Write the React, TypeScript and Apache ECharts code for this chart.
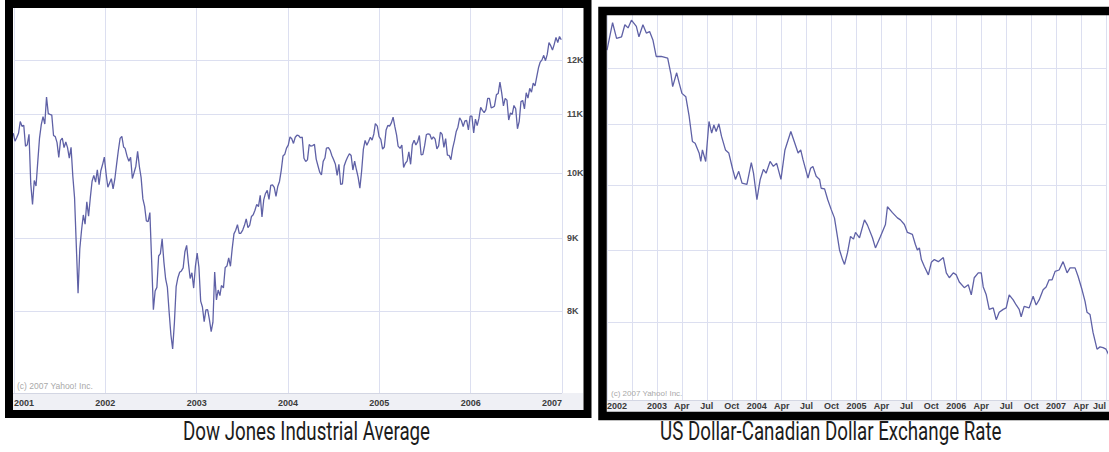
import React, { useEffect, useRef } from "react";
import * as echarts from "echarts";

// ---------- data ----------
const captions = ["Dow Jones Industrial Average", "US Dollar-Canadian Dollar Exchange Rate"];
const creditText = "(c) 2007 Yahoo! Inc.";

const dowTickLabels = ["2001", "2002", "2003", "2004", "2005", "2006", "2007"];
const dowYTicks = [8000, 9000, 10000, 11000, 12000];
const dowYTickLabels = ["8K", "9K", "10K", "11K", "12K"];

// weekly closes [week ending, value]
const dow2001: [string, number][] = [
  ["2001-01-05", 10662], ["2001-01-12", 10525], ["2001-01-19", 10587], ["2001-01-26", 10660],
  ["2001-02-02", 10865], ["2001-02-09", 10781], ["2001-02-16", 10799], ["2001-02-23", 10441],
  ["2001-03-02", 10466], ["2001-03-09", 10644], ["2001-03-16", 9824], ["2001-03-23", 9504], ["2001-03-30", 9879],
  ["2001-04-06", 9792], ["2001-04-12", 10127], ["2001-04-20", 10579], ["2001-04-27", 10811],
  ["2001-05-04", 10951], ["2001-05-11", 10822], ["2001-05-18", 11302], ["2001-05-25", 11005],
  ["2001-06-01", 10990], ["2001-06-08", 10977], ["2001-06-15", 10623], ["2001-06-22", 10604], ["2001-06-29", 10502],
  ["2001-07-06", 10253], ["2001-07-13", 10539], ["2001-07-20", 10577], ["2001-07-27", 10416],
  ["2001-08-03", 10512], ["2001-08-10", 10416], ["2001-08-17", 10240], ["2001-08-24", 10423], ["2001-08-31", 9950],
  ["2001-09-07", 9606], ["2001-09-21", 8236], ["2001-09-28", 8848],
  ["2001-10-05", 9120], ["2001-10-12", 9344], ["2001-10-19", 9205], ["2001-10-26", 9545],
  ["2001-11-02", 9324], ["2001-11-09", 9608], ["2001-11-16", 9867], ["2001-11-23", 9960], ["2001-11-30", 9852],
  ["2001-12-07", 10049], ["2001-12-14", 9812], ["2001-12-21", 10035], ["2001-12-28", 10136],
];
const dow2002: [string, number][] = [
  ["2002-01-04", 10259], ["2002-01-11", 9987], ["2002-01-18", 9771], ["2002-01-25", 9840],
  ["2002-02-01", 9907], ["2002-02-08", 9744], ["2002-02-15", 9903], ["2002-02-22", 10140],
  ["2002-03-01", 10368], ["2002-03-08", 10572], ["2002-03-15", 10608], ["2002-03-22", 10427], ["2002-03-28", 10404],
  ["2002-04-05", 10271], ["2002-04-12", 10190], ["2002-04-19", 10257], ["2002-04-26", 9910],
  ["2002-05-03", 10007], ["2002-05-10", 10109], ["2002-05-17", 10353], ["2002-05-24", 10104], ["2002-05-31", 9925],
  ["2002-06-07", 9589], ["2002-06-14", 9474], ["2002-06-21", 9253], ["2002-06-28", 9243],
  ["2002-07-05", 9379], ["2002-07-12", 8684], ["2002-07-19", 8019], ["2002-07-26", 8264],
  ["2002-08-02", 8313], ["2002-08-09", 8745], ["2002-08-16", 8778], ["2002-08-23", 8990], ["2002-08-30", 8663],
  ["2002-09-06", 8427], ["2002-09-13", 8312], ["2002-09-20", 7986], ["2002-09-27", 7701],
  ["2002-10-04", 7528], ["2002-10-11", 7850], ["2002-10-18", 8322], ["2002-10-25", 8444],
  ["2002-11-01", 8518], ["2002-11-08", 8537], ["2002-11-15", 8579], ["2002-11-22", 8805], ["2002-11-29", 8896],
  ["2002-12-06", 8645], ["2002-12-13", 8433], ["2002-12-20", 8512], ["2002-12-27", 8304],
];
const dow2003: [string, number][] = [
  ["2003-01-03", 8601], ["2003-01-10", 8785], ["2003-01-17", 8587], ["2003-01-24", 8131], ["2003-01-31", 8054],
  ["2003-02-07", 7865], ["2003-02-14", 8016], ["2003-02-21", 8018], ["2003-02-28", 7891],
  ["2003-03-07", 7740], ["2003-03-14", 7859], ["2003-03-21", 8522], ["2003-03-28", 8146],
  ["2003-04-04", 8278], ["2003-04-11", 8203], ["2003-04-17", 8338], ["2003-04-25", 8307],
  ["2003-05-02", 8583], ["2003-05-09", 8604], ["2003-05-16", 8719], ["2003-05-23", 8601], ["2003-05-30", 8850],
  ["2003-06-06", 9063], ["2003-06-13", 9117], ["2003-06-20", 9200], ["2003-06-27", 9072],
  ["2003-07-03", 9070], ["2003-07-11", 9119], ["2003-07-18", 9189], ["2003-07-25", 9285],
  ["2003-08-01", 9153], ["2003-08-08", 9191], ["2003-08-15", 9322], ["2003-08-22", 9348], ["2003-08-29", 9416],
  ["2003-09-05", 9504], ["2003-09-12", 9471], ["2003-09-19", 9644], ["2003-09-26", 9313],
  ["2003-10-03", 9573], ["2003-10-10", 9674], ["2003-10-17", 9722], ["2003-10-24", 9583], ["2003-10-31", 9801],
  ["2003-11-07", 9810], ["2003-11-14", 9768], ["2003-11-21", 9629], ["2003-11-28", 9782],
  ["2003-12-05", 9863], ["2003-12-12", 10042], ["2003-12-19", 10278], ["2003-12-26", 10305],
];
const dow2004: [string, number][] = [
  ["2004-01-02", 10409], ["2004-01-09", 10458], ["2004-01-16", 10600], ["2004-01-23", 10568], ["2004-01-30", 10488],
  ["2004-02-06", 10593], ["2004-02-13", 10627], ["2004-02-20", 10619], ["2004-02-27", 10584],
  ["2004-03-05", 10595], ["2004-03-12", 10240], ["2004-03-19", 10186], ["2004-03-26", 10213],
  ["2004-04-02", 10470], ["2004-04-08", 10442], ["2004-04-16", 10452], ["2004-04-23", 10472], ["2004-04-30", 10226],
  ["2004-05-07", 10117], ["2004-05-14", 10012], ["2004-05-21", 9966], ["2004-05-28", 10188],
  ["2004-06-04", 10243], ["2004-06-10", 10410], ["2004-06-18", 10416], ["2004-06-25", 10371],
  ["2004-07-02", 10282], ["2004-07-09", 10213], ["2004-07-16", 10140], ["2004-07-23", 9962], ["2004-07-30", 10140],
  ["2004-08-06", 9815], ["2004-08-13", 9825], ["2004-08-20", 10111], ["2004-08-27", 10195],
  ["2004-09-03", 10260], ["2004-09-10", 10314], ["2004-09-17", 10284], ["2004-09-24", 10047],
  ["2004-10-01", 10192], ["2004-10-08", 10055], ["2004-10-15", 9933], ["2004-10-22", 9757], ["2004-10-29", 10027],
  ["2004-11-05", 10387], ["2004-11-12", 10539], ["2004-11-19", 10456], ["2004-11-26", 10522],
  ["2004-12-03", 10592], ["2004-12-10", 10543], ["2004-12-17", 10649], ["2004-12-23", 10828], ["2004-12-31", 10783],
];
const dow2005: [string, number][] = [
  ["2005-01-07", 10603], ["2005-01-14", 10558], ["2005-01-21", 10393], ["2005-01-28", 10427],
  ["2005-02-04", 10716], ["2005-02-11", 10796], ["2005-02-18", 10785], ["2005-02-25", 10841],
  ["2005-03-04", 10941], ["2005-03-11", 10774], ["2005-03-18", 10629], ["2005-03-24", 10442],
  ["2005-04-01", 10404], ["2005-04-08", 10461], ["2005-04-15", 10087], ["2005-04-22", 10157], ["2005-04-29", 10193],
  ["2005-05-06", 10345], ["2005-05-13", 10140], ["2005-05-20", 10471], ["2005-05-27", 10542],
  ["2005-06-03", 10461], ["2005-06-10", 10513], ["2005-06-17", 10623], ["2005-06-24", 10297],
  ["2005-07-01", 10303], ["2005-07-08", 10449], ["2005-07-15", 10640], ["2005-07-22", 10651], ["2005-07-29", 10641],
  ["2005-08-05", 10558], ["2005-08-12", 10600], ["2005-08-19", 10559], ["2005-08-26", 10397],
  ["2005-09-02", 10447], ["2005-09-09", 10679], ["2005-09-16", 10641], ["2005-09-23", 10419], ["2005-09-30", 10569],
  ["2005-10-07", 10292], ["2005-10-14", 10287], ["2005-10-21", 10215], ["2005-10-28", 10403],
  ["2005-11-04", 10530], ["2005-11-11", 10686], ["2005-11-18", 10766], ["2005-11-25", 10931],
  ["2005-12-02", 10878], ["2005-12-09", 10778], ["2005-12-16", 10875], ["2005-12-23", 10883], ["2005-12-30", 10718],
];
const dow2006: [string, number][] = [
  ["2006-01-06", 10959], ["2006-01-13", 10960], ["2006-01-20", 10667], ["2006-01-27", 10907],
  ["2006-02-03", 10793], ["2006-02-10", 10920], ["2006-02-17", 11115], ["2006-02-24", 11061],
  ["2006-03-03", 11022], ["2006-03-10", 11076], ["2006-03-17", 11279], ["2006-03-24", 11280], ["2006-03-31", 11109],
  ["2006-04-07", 11120], ["2006-04-13", 11137], ["2006-04-21", 11347], ["2006-04-28", 11367],
  ["2006-05-05", 11577], ["2006-05-12", 11380], ["2006-05-19", 11144], ["2006-05-26", 11278],
  ["2006-06-02", 11247], ["2006-06-09", 10891], ["2006-06-16", 11015], ["2006-06-23", 10989], ["2006-06-30", 11150],
  ["2006-07-07", 11091], ["2006-07-14", 10739], ["2006-07-21", 10868], ["2006-07-28", 11219],
  ["2006-08-04", 11240], ["2006-08-11", 11089], ["2006-08-18", 11381], ["2006-08-25", 11284],
  ["2006-09-01", 11464], ["2006-09-08", 11392], ["2006-09-15", 11560], ["2006-09-22", 11508], ["2006-09-29", 11679],
  ["2006-10-06", 11850], ["2006-10-13", 11960], ["2006-10-20", 12002], ["2006-10-27", 12090],
  ["2006-11-03", 11986], ["2006-11-10", 12108], ["2006-11-17", 12342], ["2006-11-24", 12280],
  ["2006-12-01", 12194], ["2006-12-08", 12307], ["2006-12-15", 12445], ["2006-12-22", 12343], ["2006-12-29", 12463],
  ["2007-01-05", 12398],
];

const cadTickLabels = [
  "2002", "", "2003", "Apr", "Jul", "Oct", "2004", "Apr", "Jul", "Oct",
  "2005", "Apr", "Jul", "Oct", "2006", "Apr", "Jul", "Oct", "2007", "Apr", "Jul",
];
const cadYTicks = [1.1, 1.2, 1.3, 1.4, 1.5];

// [fractional year, USD/CAD]
const cad2002_03: [number, number][] = [
  [2002.5, 1.533], [2002.556, 1.585], [2002.596, 1.555], [2002.646, 1.558], [2002.679, 1.581], [2002.711, 1.575],
  [2002.745, 1.59], [2002.794, 1.578], [2002.82, 1.558], [2002.86, 1.581], [2002.894, 1.565], [2002.927, 1.568],
  [2002.96, 1.552], [2002.993, 1.521], [2003.043, 1.521], [2003.108, 1.518], [2003.142, 1.487], [2003.158, 1.466],
  [2003.198, 1.491], [2003.224, 1.472], [2003.251, 1.454], [2003.29, 1.448], [2003.323, 1.414], [2003.356, 1.371],
  [2003.383, 1.368], [2003.423, 1.352], [2003.44, 1.338], [2003.456, 1.357], [2003.489, 1.338], [2003.522, 1.405],
  [2003.549, 1.385], [2003.571, 1.399], [2003.594, 1.388], [2003.621, 1.401], [2003.647, 1.38], [2003.687, 1.357],
  [2003.72, 1.352], [2003.76, 1.325], [2003.787, 1.309], [2003.82, 1.322], [2003.853, 1.303], [2003.902, 1.301],
  [2003.946, 1.336], [2003.968, 1.319],
];
const cad2004_05: [number, number][] = [
  [2004.002, 1.277], [2004.035, 1.309], [2004.067, 1.325], [2004.094, 1.319], [2004.134, 1.338], [2004.167, 1.33],
  [2004.2, 1.335], [2004.243, 1.309], [2004.283, 1.357], [2004.342, 1.388], [2004.382, 1.368], [2004.415, 1.352],
  [2004.441, 1.357], [2004.464, 1.341], [2004.514, 1.311], [2004.54, 1.327], [2004.563, 1.33], [2004.596, 1.314],
  [2004.63, 1.309], [2004.646, 1.295], [2004.68, 1.294], [2004.712, 1.277], [2004.746, 1.262], [2004.779, 1.249],
  [2004.83, 1.201], [2004.86, 1.187], [2004.88, 1.18], [2004.91, 1.197], [2004.94, 1.221], [2004.97, 1.217],
  [2004.99, 1.227], [2005.03, 1.219], [2005.08, 1.246], [2005.11, 1.238], [2005.16, 1.219], [2005.19, 1.204],
  [2005.24, 1.221], [2005.29, 1.239], [2005.31, 1.266], [2005.36, 1.257], [2005.41, 1.249], [2005.44, 1.246],
  [2005.48, 1.239], [2005.51, 1.227], [2005.56, 1.224], [2005.59, 1.209], [2005.61, 1.201], [2005.63, 1.204],
  [2005.65, 1.187], [2005.68, 1.177], [2005.72, 1.165], [2005.75, 1.183], [2005.78, 1.187], [2005.82, 1.184],
  [2005.87, 1.19], [2005.9, 1.168], [2005.93, 1.161], [2005.97, 1.168],
];
const cad2006_07: [number, number][] = [
  [2006.0, 1.165], [2006.03, 1.155], [2006.08, 1.147], [2006.12, 1.151], [2006.15, 1.137], [2006.18, 1.161],
  [2006.22, 1.168], [2006.25, 1.168], [2006.27, 1.148], [2006.3, 1.137], [2006.33, 1.117], [2006.37, 1.119],
  [2006.4, 1.103], [2006.43, 1.113], [2006.47, 1.117], [2006.5, 1.119], [2006.53, 1.137], [2006.57, 1.13],
  [2006.6, 1.123], [2006.63, 1.117], [2006.65, 1.107], [2006.68, 1.121], [2006.73, 1.119], [2006.77, 1.135],
  [2006.8, 1.123], [2006.83, 1.13], [2006.87, 1.144], [2006.9, 1.148], [2006.93, 1.158], [2006.96, 1.158],
  [2006.99, 1.17], [2007.03, 1.172], [2007.07, 1.184], [2007.11, 1.168], [2007.14, 1.175], [2007.19, 1.175],
  [2007.22, 1.163], [2007.26, 1.144], [2007.29, 1.128], [2007.31, 1.113], [2007.34, 1.11], [2007.37, 1.086],
  [2007.41, 1.064], [2007.44, 1.067], [2007.47, 1.066], [2007.5, 1.064], [2007.53, 1.056],
];

// ---------- helpers ----------
// Yahoo plots each weekly close at the start of its week
const WEEK_START_SHIFT_DAYS = 7;
function toYear(s: string, shiftDays: number): number {
  const [y, m, d] = s.split("-").map(Number);
  const t = Date.UTC(y, m - 1, d) - shiftDays * 86400000;
  const yr = new Date(t).getUTCFullYear();
  const a = Date.UTC(yr, 0, 1);
  const b = Date.UTC(yr + 1, 0, 1);
  return yr + (t - a) / (b - a);
}

const LINE = "#5f61a6";
const GRID = "#dcdff0";
const LABEL = "#3a3a3a";
const LABEL_FONT = "Liberation Sans";
const CAPTION_SCALE = 0.75;

export default function App() {
  const ref = useRef<HTMLDivElement>(null);

  useEffect(() => {
    if (!ref.current) return;
    const chart = echarts.init(ref.current, undefined, { renderer: "svg" });

    const dowData = [...dow2001, ...dow2002, ...dow2003, ...dow2004, ...dow2005, ...dow2006].map(
      ([d, v]) => [toYear(d, WEEK_START_SHIFT_DAYS), v]
    );
    const cadData = [...cad2002_03, ...cad2004_05, ...cad2006_07];

    const labelStyle = {
      color: LABEL,
      fontFamily: LABEL_FONT,
      fontWeight: "bold" as const,
      fontSize: 9,
    };

    const option: any = {
      animation: false,
      grid: [
        { left: 14, top: 8, width: 548, height: 385 },
        { left: 607, top: 15, width: 501, height: 385 },
      ],
      xAxis: [
        {
          type: "value",
          gridIndex: 0,
          min: 2001,
          max: 2007,
          interval: 1,
          axisLine: { show: false },
          axisTick: { show: false },
          splitLine: { show: true, lineStyle: { color: GRID, width: 1 } },
          axisLabel: {
            ...labelStyle,
            margin: 5,
            alignMinLabel: "left",
            alignMaxLabel: "right",
            formatter: (v: number) => dowTickLabels[Math.round(v - 2001)] ?? "",
          },
        },
        {
          type: "value",
          gridIndex: 1,
          min: 2002.5,
          max: 2007.5,
          interval: 0.25,
          axisLine: { show: false },
          axisTick: { show: false },
          splitLine: { show: true, lineStyle: { color: GRID, width: 1 } },
          axisLabel: {
            ...labelStyle,
            margin: 1,
            alignMinLabel: "left",
            alignMaxLabel: "right",
            formatter: (v: number) => {
              const i = Math.round((v - 2002.5) / 0.25);
              if (Math.abs(2002.5 + i * 0.25 - v) > 1e-6) return "";
              return cadTickLabels[i] ?? "";
            },
          },
        },
      ],
      yAxis: [
        {
          type: "log",
          logBase: 10,
          gridIndex: 0,
          min: 7010,
          max: 13050,
          axisLine: { show: false },
          axisTick: { show: false },
          axisLabel: { show: false },
          splitLine: { show: false },
        },
        {
          type: "log",
          logBase: 10,
          gridIndex: 1,
          min: 1.0,
          max: 1.6,
          axisLine: { show: false },
          axisTick: { show: false },
          axisLabel: { show: false },
          splitLine: { show: false },
        },
      ],
      series: [
        {
          type: "line",
          xAxisIndex: 0,
          yAxisIndex: 0,
          data: dowData,
          showSymbol: false,
          symbol: "none",
          silent: true,
          z: 3,
          lineStyle: { color: LINE, width: 1.3 },
          markLine: {
            silent: true,
            symbol: "none",
            z: 1,
            animation: false,
            lineStyle: { color: GRID, width: 1, type: "solid" },
            label: { ...labelStyle, color: "#484848", position: "end", distance: 5 },
            emphasis: { disabled: true },
            data: dowYTicks.map((v, i) => ({ yAxis: v, label: { formatter: dowYTickLabels[i] } })),
          },
        },
        {
          type: "line",
          xAxisIndex: 1,
          yAxisIndex: 1,
          data: cadData,
          showSymbol: false,
          symbol: "none",
          silent: true,
          z: 3,
          lineStyle: { color: LINE, width: 1.3 },
          markLine: {
            silent: true,
            symbol: "none",
            z: 1,
            animation: false,
            lineStyle: { color: GRID, width: 1, type: "solid" },
            label: { show: false },
            emphasis: { disabled: true },
            data: cadYTicks.map((v) => ({ yAxis: v })),
          },
        },
      ],
      graphic: [
        // bottom label bands
        { type: "rect", z: -10, shape: { x: 13, y: 393, width: 570, height: 17 }, style: { fill: "#eff0f5" } },
        { type: "line", z: -9, shape: { x1: 13, y1: 393.5, x2: 562, y2: 393.5 }, style: { stroke: "#d3d6e3", lineWidth: 1 } },
        { type: "rect", z: -10, shape: { x: 607, y: 400, width: 520, height: 12 }, style: { fill: "#eff0f5" } },
        { type: "line", z: -9, shape: { x1: 607, y1: 400.5, x2: 1120, y2: 400.5 }, style: { stroke: "#d3d6e3", lineWidth: 1 } },
        // credits
        {
          type: "text", z: 5, x: 17, y: 386,
          style: { text: creditText, fontFamily: LABEL_FONT, fontSize: 8.5, fill: "#a9a9a9", align: "left", verticalAlign: "middle" },
        },
        {
          type: "text", z: 5, x: 611, y: 393,
          style: { text: creditText, fontFamily: LABEL_FONT, fontSize: 8, fill: "#a9a9a9", align: "left", verticalAlign: "middle" },
        },
        // black frames
        { type: "rect", z: 100, shape: { x: 9, y: 4, width: 578.5, height: 410 }, style: { fill: "none", stroke: "#000", lineWidth: 8 } },
        { type: "rect", z: 100, shape: { x: 602.5, y: 11, width: 620, height: 405 }, style: { fill: "none", stroke: "#000", lineWidth: 8.5 } },
        // captions
        {
          type: "text", z: 5, x: 183, y: 432, scaleX: CAPTION_SCALE,
          style: { text: captions[0], fontFamily: "Roboto", fontSize: 25, fill: "#1c1c1c", align: "left", verticalAlign: "middle" },
        },
        {
          type: "text", z: 5, x: 660, y: 432, scaleX: CAPTION_SCALE,
          style: { text: captions[1], fontFamily: "Roboto", fontSize: 25, fill: "#1c1c1c", align: "left", verticalAlign: "middle" },
        },
      ],
    };

    chart.setOption(option);
    return () => chart.dispose();
  }, []);

  return (
    <div style={{ position: "absolute", left: 0, top: 0, width: 1109, height: 452, overflow: "hidden", background: "#fff" }}>
      <div ref={ref} style={{ width: 1109, height: 452 }} />
    </div>
  );
}
